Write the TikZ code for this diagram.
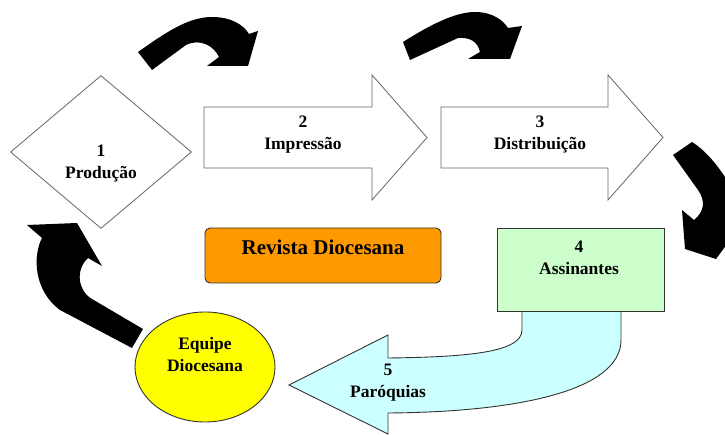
\documentclass[tikz,border=0pt]{standalone}
\usepackage{fontspec}
\setmainfont{Liberation Serif}
\usetikzlibrary{shapes.geometric}
\definecolor{orng}{HTML}{FF9900}
\definecolor{lgreen}{HTML}{CCFFCC}
\definecolor{lcyan}{HTML}{CCFFFF}
\definecolor{yel}{HTML}{FFFF00}
\definecolor{edgegray}{HTML}{666666}
\definecolor{edgedark}{HTML}{333333}
\begin{document}
\begin{tikzpicture}[x=1pt,y=-1pt,
  lbl/.style={font=\fontsize{17.5}{22}\selectfont\bfseries, align=center, inner sep=0pt, text=black},
  whiteshape/.style={draw=edgegray, line width=0.8pt, fill=white, line join=miter},
  darkshape/.style={draw=edgedark, line width=0.9pt},
  curvy/.style={fill=black, draw=none},
]
\useasboundingbox (0,0) rectangle (725,435);
\fill[white] (0,0) rectangle (725,435);

% 1 Producao (diamond)
\node[diamond, whiteshape, minimum width=181pt, minimum height=153pt, inner sep=0pt] (prod) at (101,152) {};

% 2 and 3 block arrows
\path[whiteshape] (204,107) -- (372,107) -- (372,75) -- (427,137.5) -- (372,200) -- (372,168) -- (204,168) -- cycle;
\path[whiteshape] (441,107) -- (608,107) -- (608,75) -- (663,137.5) -- (608,200) -- (608,168) -- (441,168) -- cycle;

% Revista Diocesana
\node[darkshape, fill=orng, rounded corners=5pt, minimum width=236pt, minimum height=55pt, inner sep=0pt] (rev) at (323,255.5) {};

% 5 Paroquias (U-turn arrow)
\path[darkshape, fill=lcyan] (522,311) -- (522,330) .. controls (522,352) and (470,357) .. (388,358) -- (388,335) -- (289,385) -- (388,434) -- (388,413) .. controls (520,412) and (621,390) .. (621,340) -- (621,311) -- cycle;

% 4 Assinantes
\node[darkshape, fill=lgreen, minimum width=167pt, minimum height=83pt, inner sep=0pt] (assin) at (580.5,269.5) {};

% Equipe Diocesana
\node[ellipse, darkshape, fill=yel, minimum width=140pt, minimum height=110pt, inner sep=0pt] (equipe) at (205,367) {};

% black curved arrows
\fill[curvy] (138,52) .. controls (165,33) and (188,17) .. (212,17) .. controls (230,17) and (243,24) .. (249,34) -- (258,31) -- (248,66) -- (207,66) -- (219,57) .. controls (214,46) and (200,38) .. (186,45) -- (152,70) -- cycle;
\fill[curvy] (403,42) .. controls (430,25) and (455,12) .. (475,12) .. controls (492,12) and (503,20) .. (508,28) -- (522,26) -- (510,59) -- (468,59) -- (480,52) .. controls (478,42) and (470,37) .. (458,38) -- (410,60) -- cycle;
\begin{scope}
\clip (0,0) rectangle (725,435);
\fill[curvy] (673,155) -- (698,190) .. controls (706,201) and (704,212) .. (694,220) -- (682,210) -- (685,249) -- (716,259) -- (730,240) -- (730,185) .. controls (718,165) and (705,150) .. (692,142) -- cycle;
\end{scope}
\fill[curvy] (143,329) -- (92,299) .. controls (78,291) and (75,270) .. (88,258) -- (102,266) -- (77,223) -- (27,225) -- (42,238) .. controls (33,255) and (33,290) .. (60,310) -- (132,348) -- cycle;

% labels
\node[lbl] (t1) at (101,164) {1\\Produção};
\node[lbl] (t2) at (303,135) {2\\Impressão};
\node[lbl] (t3) at (540,135) {3\\Distribuição};
\node[lbl, font=\fontsize{21}{25}\selectfont\bfseries] (trev) at (323,247) {Revista Diocesana};
\node[lbl] (t4) at (579,257.5) {4\\Assinantes};
\node[lbl] (t5) at (388,383) {5\\Paróquias};
\node[lbl] (te) at (205,355) {Equipe\\Diocesana};
\end{tikzpicture}
\end{document}
